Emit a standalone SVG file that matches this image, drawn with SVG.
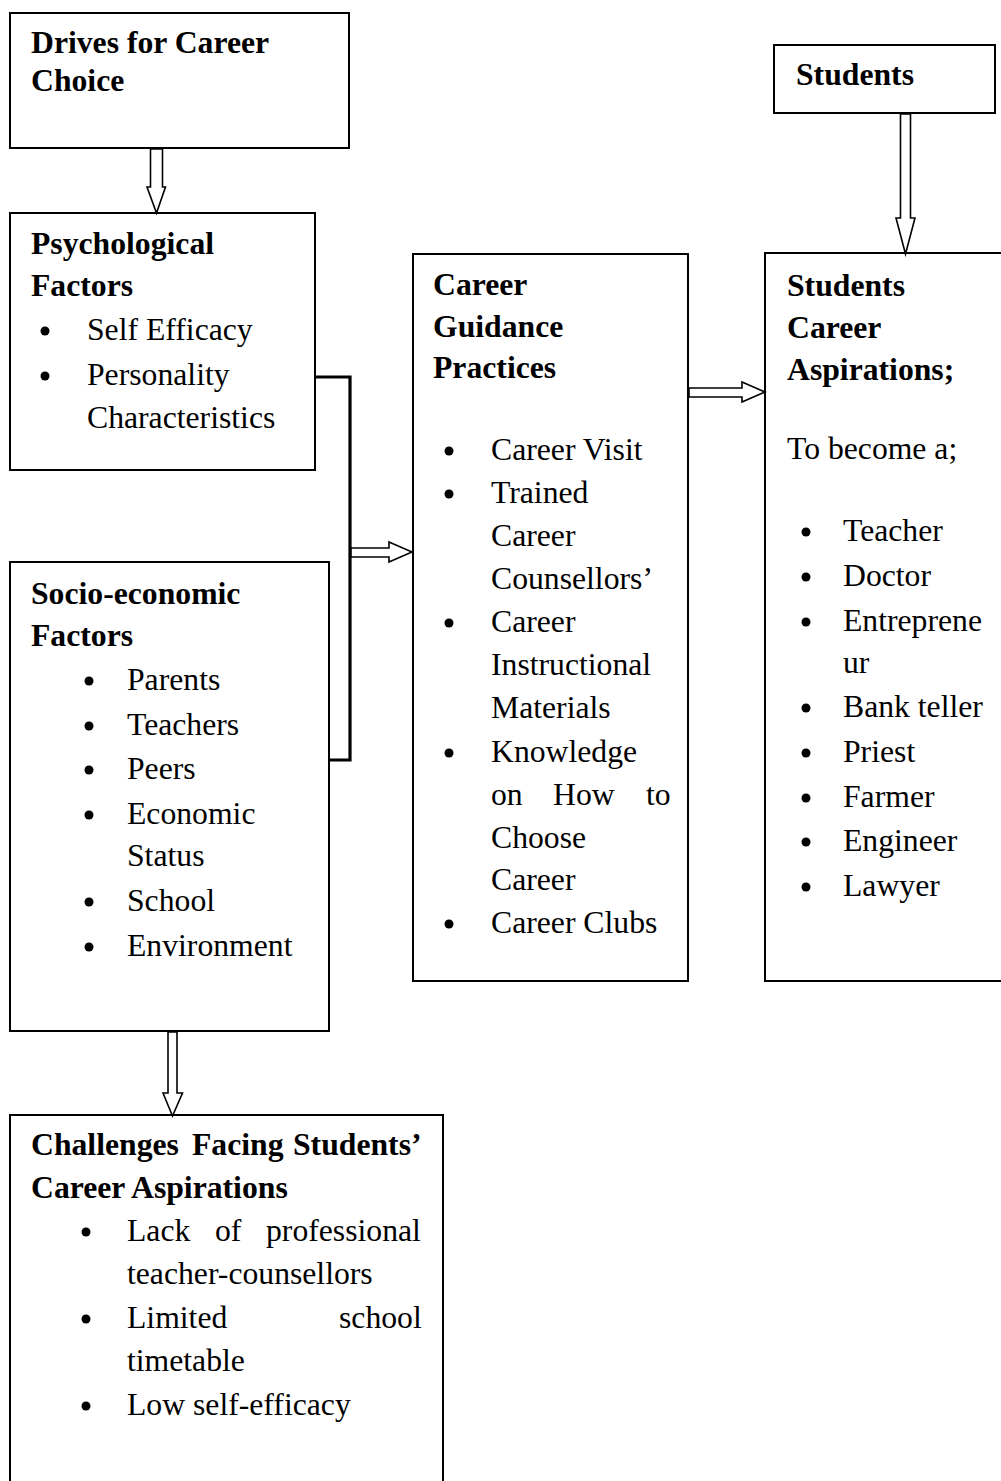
<svg xmlns="http://www.w3.org/2000/svg" width="1001" height="1481" viewBox="0 0 1001 1481">
<style>
.box{fill:#fff;stroke:#000;stroke-width:2}
.t{font-family:"Liberation Serif","Times New Roman",serif;font-size:31.7px;fill:#000}
.b{font-weight:bold}
.dot{fill:#000}
.arr{fill:#fff;stroke:#000;stroke-width:1.6;stroke-linejoin:miter}
.br{fill:none;stroke:#000;stroke-width:3.2}
</style>
<rect width="1001" height="1481" fill="#fff"/>

<g id="drives">
<rect class="box" x="10" y="13" width="339" height="135"/>
<text class="t b" x="31" y="53">Drives for Career</text>
<text class="t b" x="31" y="91">Choice</text>
</g>

<g id="psych">
<rect class="box" x="10" y="213" width="305" height="257"/>
<text class="t b" x="31" y="254">Psychological</text>
<text class="t b" x="31" y="296">Factors</text>
<circle class="dot" cx="45" cy="331" r="4.5"/>
<text class="t" x="87" y="340">Self Efficacy</text>
<circle class="dot" cx="45" cy="376" r="4.5"/>
<text class="t" x="87" y="385">Personality</text>
<text class="t" x="87" y="428">Characteristics</text>
</g>

<g id="socio">
<rect class="box" x="10" y="562" width="319" height="469"/>
<text class="t b" x="31" y="604">Socio-economic</text>
<text class="t b" x="31" y="646">Factors</text>
<circle class="dot" cx="89" cy="681" r="4.5"/>
<text class="t" x="127" y="690">Parents</text>
<circle class="dot" cx="89" cy="726" r="4.5"/>
<text class="t" x="127" y="735">Teachers</text>
<circle class="dot" cx="89" cy="770" r="4.5"/>
<text class="t" x="127" y="779">Peers</text>
<circle class="dot" cx="89" cy="815" r="4.5"/>
<text class="t" x="127" y="824">Economic</text>
<text class="t" x="127" y="866">Status</text>
<circle class="dot" cx="89" cy="902" r="4.5"/>
<text class="t" x="127" y="911">School</text>
<circle class="dot" cx="89" cy="947" r="4.5"/>
<text class="t" x="127" y="956">Environment</text>
</g>

<g id="challenges">
<rect class="box" x="10" y="1115" width="433" height="400"/>
<text class="t b" x="31" y="1155">Challenges</text>
<text class="t b" x="192" y="1155">Facing</text>
<text class="t b" x="293" y="1155">Students’</text>
<text class="t b" x="31" y="1198">Career Aspirations</text>
<circle class="dot" cx="86" cy="1232" r="4.5"/>
<text class="t" x="127" y="1241">Lack</text>
<text class="t" x="215" y="1241">of</text>
<text class="t" x="266" y="1241">professional</text>
<text class="t" x="127" y="1284">teacher-counsellors</text>
<circle class="dot" cx="86" cy="1319" r="4.5"/>
<text class="t" x="127" y="1328">Limited</text>
<text class="t" x="339" y="1328">school</text>
<text class="t" x="127" y="1371">timetable</text>
<circle class="dot" cx="86" cy="1406" r="4.5"/>
<text class="t" x="127" y="1415">Low self-efficacy</text>
</g>

<g id="guidance">
<rect class="box" x="413" y="254" width="275" height="727"/>
<text class="t b" x="433" y="295">Career</text>
<text class="t b" x="433" y="337">Guidance</text>
<text class="t b" x="433" y="378">Practices</text>
<circle class="dot" cx="449" cy="451" r="4.5"/>
<text class="t" x="491" y="460">Career Visit</text>
<circle class="dot" cx="449" cy="494" r="4.5"/>
<text class="t" x="491" y="503">Trained</text>
<text class="t" x="491" y="546">Career</text>
<text class="t" x="491" y="589">Counsellors’</text>
<circle class="dot" cx="449" cy="623" r="4.5"/>
<text class="t" x="491" y="632">Career</text>
<text class="t" x="491" y="675">Instructional</text>
<text class="t" x="491" y="718">Materials</text>
<circle class="dot" cx="449" cy="753" r="4.5"/>
<text class="t" x="491" y="762">Knowledge</text>
<text class="t" x="491" y="805">on</text>
<text class="t" x="553" y="805">How</text>
<text class="t" x="646" y="805">to</text>
<text class="t" x="491" y="848">Choose</text>
<text class="t" x="491" y="890">Career</text>
<circle class="dot" cx="449" cy="924" r="4.5"/>
<text class="t" x="491" y="933">Career Clubs</text>
</g>

<g id="students">
<rect class="box" x="774" y="45" width="221" height="68"/>
<text class="t b" x="796" y="85">Students</text>
</g>

<g id="aspirations">
<rect class="box" x="765" y="253" width="250" height="728"/>
<text class="t b" x="787" y="296">Students</text>
<text class="t b" x="787" y="338">Career</text>
<text class="t b" x="787" y="380">Aspirations;</text>
<text class="t" x="787" y="459">To become a;</text>
<circle class="dot" cx="806" cy="532" r="4.5"/>
<text class="t" x="843" y="541">Teacher</text>
<circle class="dot" cx="806" cy="577" r="4.5"/>
<text class="t" x="843" y="586">Doctor</text>
<circle class="dot" cx="806" cy="622" r="4.5"/>
<text class="t" x="843" y="631">Entreprene</text>
<text class="t" x="843" y="673">ur</text>
<circle class="dot" cx="806" cy="708" r="4.5"/>
<text class="t" x="843" y="717">Bank teller</text>
<circle class="dot" cx="806" cy="753" r="4.5"/>
<text class="t" x="843" y="762">Priest</text>
<circle class="dot" cx="806" cy="798" r="4.5"/>
<text class="t" x="843" y="807">Farmer</text>
<circle class="dot" cx="806" cy="842" r="4.5"/>
<text class="t" x="843" y="851">Engineer</text>
<circle class="dot" cx="806" cy="887" r="4.5"/>
<text class="t" x="843" y="896">Lawyer</text>
</g>

<g id="connectors">
<polygon class="arr" points="150.5,149 162.5,149 162.5,187 165.5,187 156.5,213 147,187 150.5,187"/>
<polygon class="arr" points="900.5,114 910.5,114 910.5,218 915,218 905.5,254 896,218 900.5,218"/>
<polygon class="arr" points="168,1032 177,1032 177,1093 182.5,1093 172.5,1116 163,1093 168,1093"/>
<path class="br" d="M316,377 H350 V760 H330"/>
<polygon class="arr" points="351,548 389,548 389,542 412,552 389,562 389,557 351,557"/>
<polygon class="arr" points="689,388 742,388 742,382 765,392 742,402 742,397 689,397"/>
</g>
</svg>
